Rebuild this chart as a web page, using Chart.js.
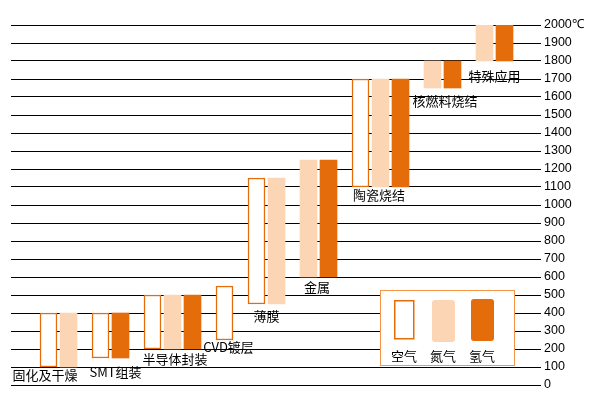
<!DOCTYPE html>
<html>
<head>
<meta charset="utf-8">
<script src="https://cdn.jsdelivr.net/npm/chart.js@4/dist/chart.umd.min.js"></script>
<style>
  html, body { margin: 0; padding: 0; background: #ffffff; }
  canvas { display: block; }
</style>
</head>
<body>
<canvas id="c" width="591" height="396"></canvas>
<script>
// ---- data ----
const categories = ['固化及干燥', 'SMT组装', '半导体封装', 'CVD镀层', '薄膜', '金属', '陶瓷烧结', '核燃料烧结', '特殊应用'];
const seriesNames = ['空气', '氮气', '氢气'];
const airRange      = [[100, 400], [150, 400], [200, 500], [250, 550], [450, 1150], null, [1100, 1700], null, null];
const nitrogenRange = [[100, 400], null, [200, 500], null, [450, 1150], [600, 1250], [1100, 1700], [1650, 1800], [1800, 2000]];
const hydrogenRange = [null, [150, 400], [200, 500], null, null, [600, 1250], [1100, 1700], [1650, 1800], [1800, 2000]];
const yTicks = { min: 0, max: 2000, step: 100, unit: '℃' };

// ---- layout (not data) ----
const GROUP_GAP = 0.6;           // extra gap between groups, in bar slots
const X_MIN = -1.875, X_MAX = 24.625;
const labelOffset = [[-13.5, 8], [5, 14], [2.5, 10], [4, 7], [0, 12], [-1.5, 10], [-1.5, 8], [2.5, 13], [0, 15]];

const COL_AIR_BORDER = '#E46C0A';
const COL_N2 = '#FCD5B5';
const COL_H2 = '#E46C0A';
const CJK = '"Noto Sans CJK SC", "Noto Sans", sans-serif';

// compute contiguous bar positions from data
const allSeries = [airRange, nitrogenRange, hydrogenRange];
const points = [[], [], []];
const groups = [];
let pos = 0;
categories.forEach((cat, i) => {
  const xs = [];
  let low = Infinity;
  allSeries.forEach((s, k) => {
    if (s[i]) {
      points[k].push({ x: pos, y: s[i] });
      xs.push(pos);
      low = Math.min(low, s[i][0]);
      pos += 1;
    }
  });
  groups.push({ name: cat, first: xs[0], last: xs[xs.length - 1], low });
  pos += GROUP_GAP;
});

const labelPlugin = {
  id: 'catLabels',
  afterDatasetsDraw(chart) {
    const { ctx, scales: { x, y } } = chart;
    ctx.save();
    ctx.font = '13px ' + CJK;
    ctx.fillStyle = '#000';
    ctx.textAlign = 'center';
    ctx.textBaseline = 'middle';
    groups.forEach((g, i) => {
      const cx = (x.getPixelForValue(g.first) + x.getPixelForValue(g.last)) / 2 + labelOffset[i][0];
      const cy = y.getPixelForValue(g.low) + labelOffset[i][1];
      ctx.fillText(g.name, cx, cy);
    });
    ctx.restore();
  }
};

function roundRect(ctx, x, y, w, h, r) {
  ctx.beginPath();
  ctx.moveTo(x + r, y);
  ctx.lineTo(x + w - r, y);
  ctx.quadraticCurveTo(x + w, y, x + w, y + r);
  ctx.lineTo(x + w, y + h - r);
  ctx.quadraticCurveTo(x + w, y + h, x + w - r, y + h);
  ctx.lineTo(x + r, y + h);
  ctx.quadraticCurveTo(x, y + h, x, y + h - r);
  ctx.lineTo(x, y + r);
  ctx.quadraticCurveTo(x, y, x + r, y);
  ctx.closePath();
}

const legendPlugin = {
  id: 'boxLegend',
  afterDraw(chart) {
    const { ctx } = chart;
    ctx.save();
    ctx.fillStyle = '#fff';
    ctx.fillRect(380, 290, 134, 75);
    ctx.strokeStyle = '#F79646';
    ctx.lineWidth = 1;
    ctx.strokeRect(380.5, 290.5, 134, 75);
    // air
    ctx.fillStyle = '#fff';
    ctx.fillRect(394, 300, 20, 39);
    ctx.strokeStyle = COL_AIR_BORDER;
    ctx.lineWidth = 1.5;
    ctx.strokeRect(394.75, 300.75, 19, 38);
    // nitrogen
    ctx.fillStyle = COL_N2;
    roundRect(ctx, 432, 300, 23, 42, 3); ctx.fill();
    // hydrogen
    ctx.fillStyle = COL_H2;
    roundRect(ctx, 471, 299, 23, 42, 3); ctx.fill();
    ctx.font = '13px ' + CJK;
    ctx.fillStyle = '#000';
    ctx.textAlign = 'center';
    ctx.textBaseline = 'middle';
    const cxs = [404, 443, 482];
    seriesNames.forEach((n, i) => ctx.fillText(n, cxs[i], 356));
    ctx.restore();
  }
};

new Chart(document.getElementById('c'), {
  type: 'bar',
  data: {
    datasets: [
      { label: seriesNames[0], data: points[0], backgroundColor: '#ffffff', borderColor: COL_AIR_BORDER, borderWidth: 1.5, borderSkipped: false },
      { label: seriesNames[1], data: points[1], backgroundColor: COL_N2, borderWidth: 0 },
      { label: seriesNames[2], data: points[2], backgroundColor: COL_H2, borderWidth: 0 }
    ]
  },
  options: {
    responsive: false,
    animation: false,
    devicePixelRatio: 1,
    layout: { padding: { left: 11, top: 25, bottom: 11, right: 0 } },
    datasets: { bar: { grouped: false, barThickness: 17 } },
    plugins: { legend: { display: false }, tooltip: { enabled: false } },
    scales: {
      x: { type: 'linear', display: false, min: X_MIN, max: X_MAX, offset: false },
      y: {
        position: 'right',
        min: yTicks.min, max: yTicks.max,
        afterFit(scale) { scale.width = 50; },
        border: { display: false },
        grid: { color: '#000', lineWidth: 1, drawTicks: false },
        ticks: {
          stepSize: yTicks.step,
          padding: 3,
          color: '#000',
          font: { family: '"Liberation Sans", Arial, sans-serif', size: 12.5 },
          callback: v => v === yTicks.max ? v + yTicks.unit : String(v)
        }
      }
    }
  },
  plugins: [labelPlugin, legendPlugin]
});
</script>
</body>
</html>
